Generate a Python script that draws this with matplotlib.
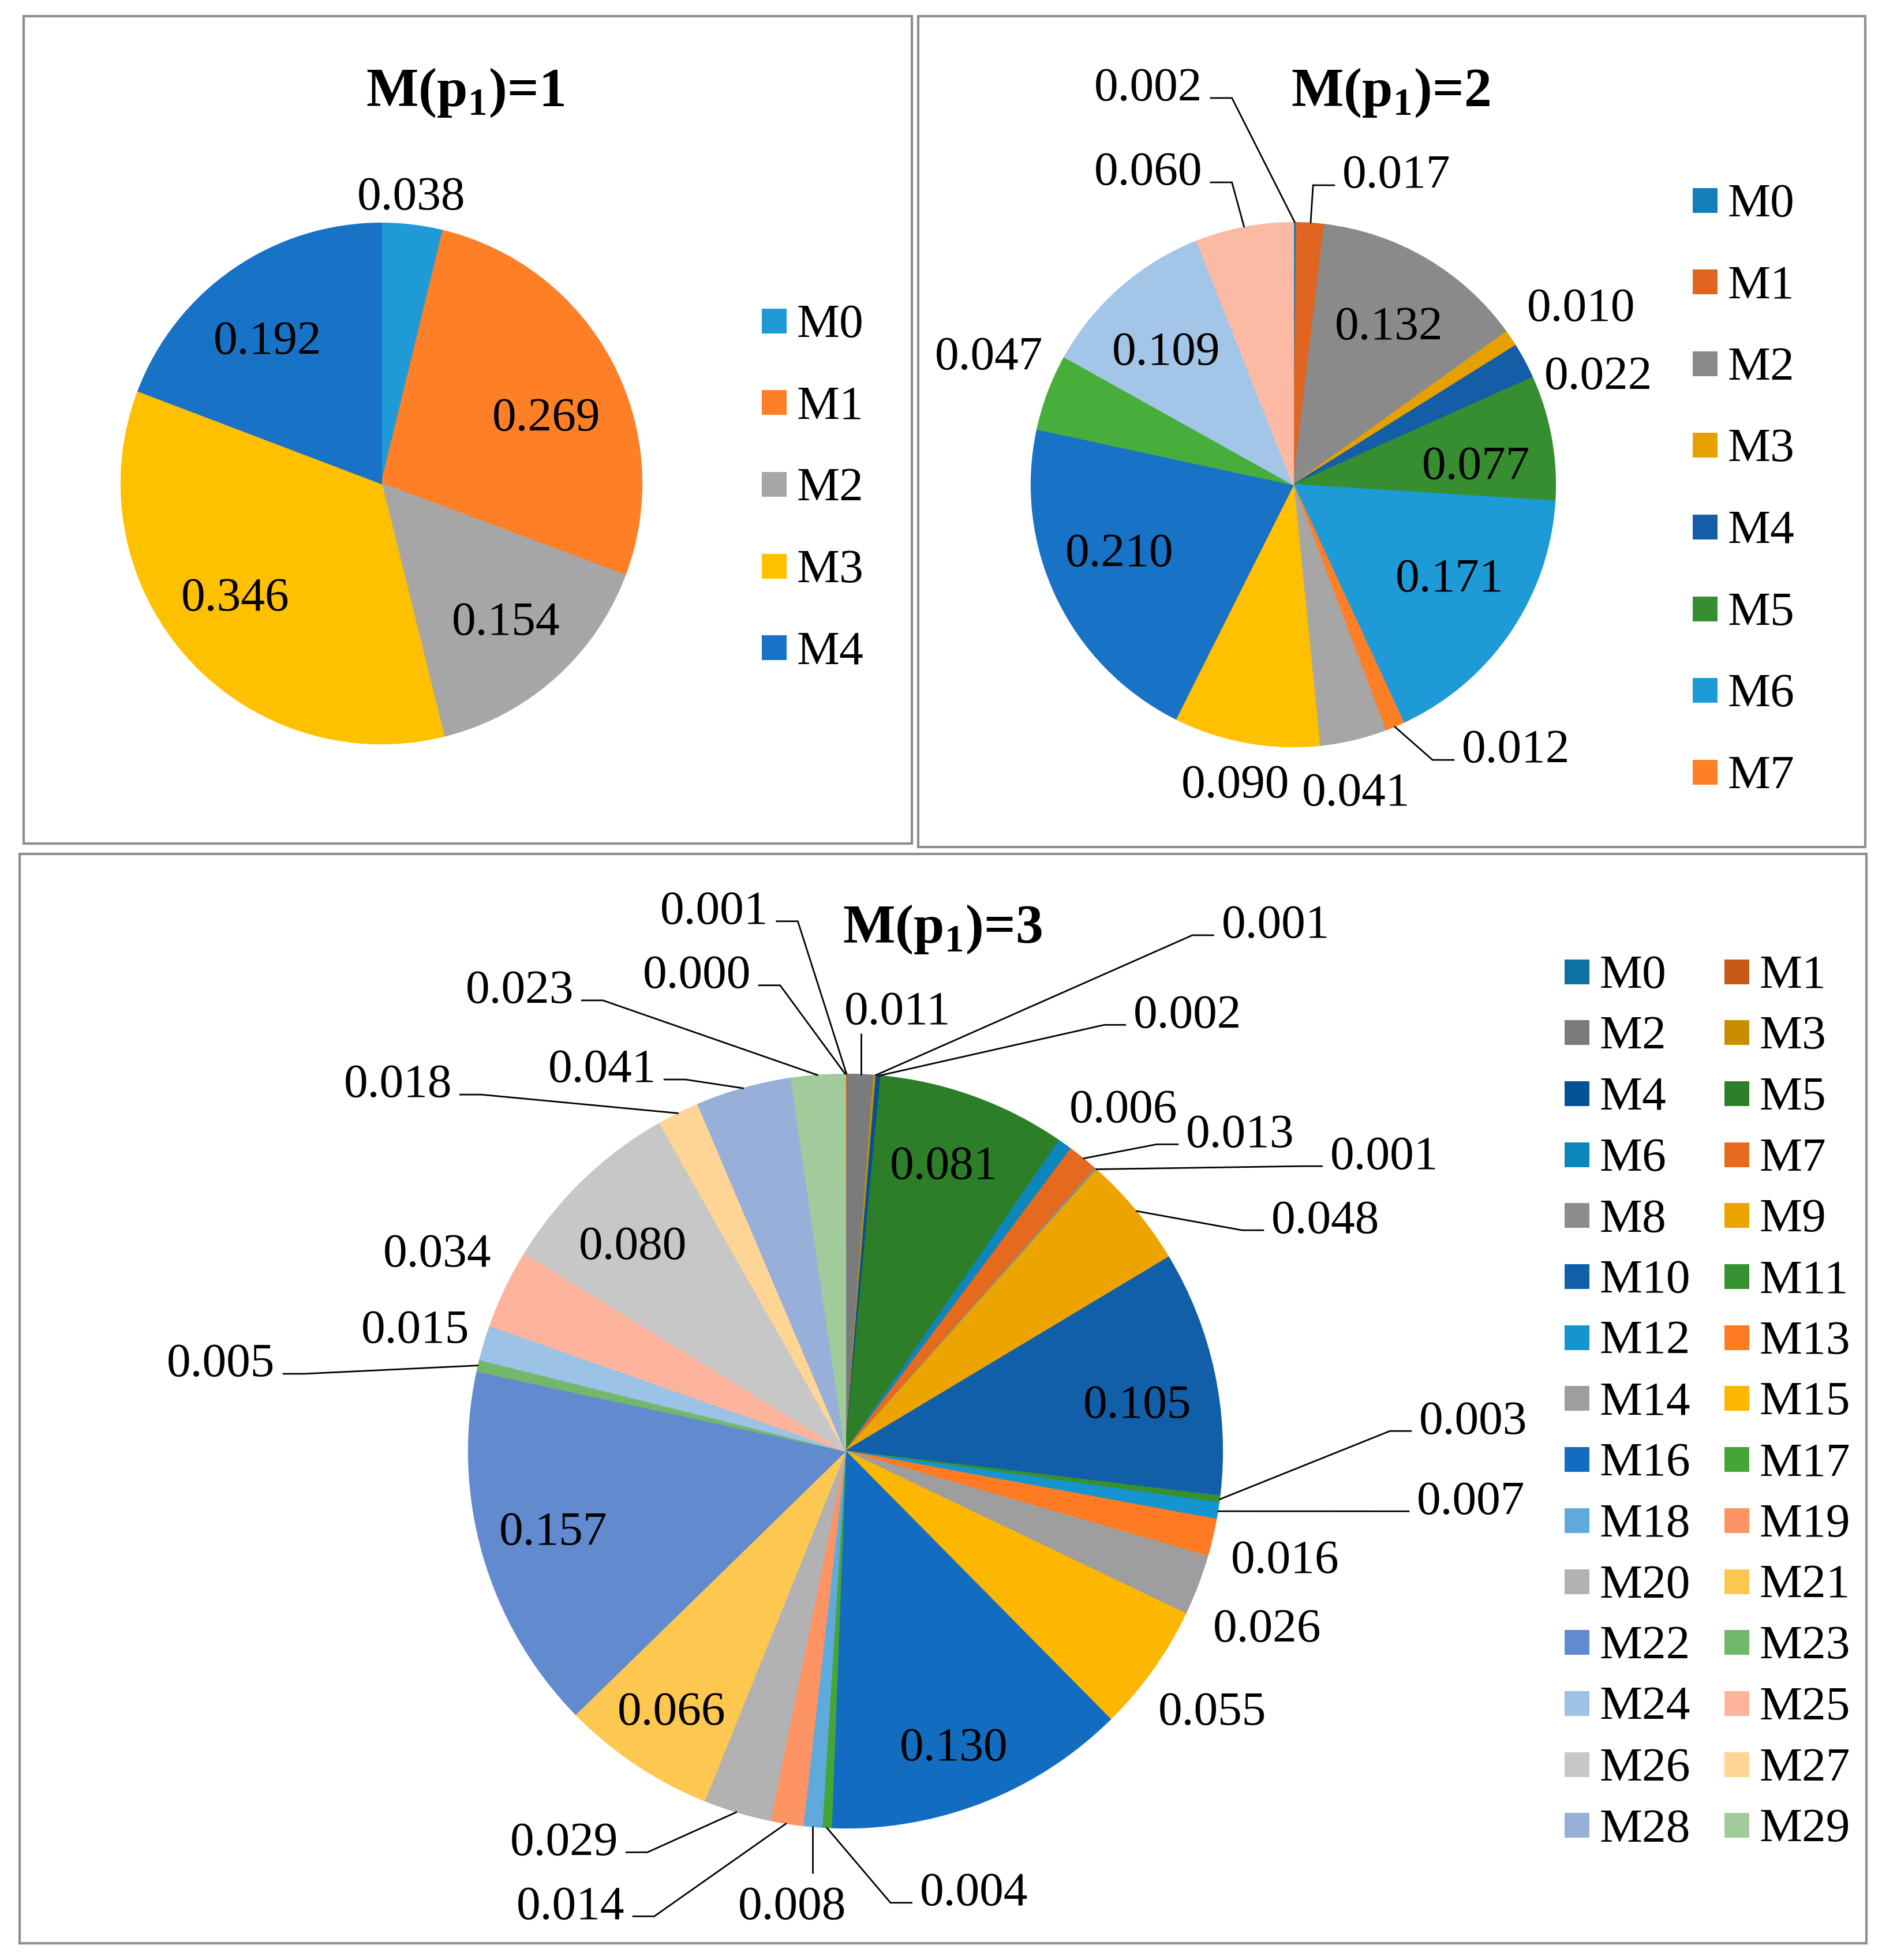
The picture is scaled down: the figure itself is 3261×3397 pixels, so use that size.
import matplotlib
matplotlib.use("Agg")
import matplotlib.pyplot as plt
from matplotlib.patches import Rectangle
import numpy as np

# canvas in pixels, y measured downward like the picture
W, H, DPI = 3262, 3397, 200

# ------------------------------------------------------------------
# data
# ------------------------------------------------------------------
labels1 = ["M0", "M1", "M2", "M3", "M4"]
values1 = [0.038, 0.269, 0.154, 0.346, 0.192]
colors1 = ["#1E9BD7", "#FF7F27", "#A6A6A6", "#FFC000", "#1872C6"]

labels2 = [f"M{i}" for i in range(14)]
values2 = [0.002, 0.017, 0.132, 0.010, 0.022, 0.077, 0.171,
           0.012, 0.041, 0.090, 0.210, 0.047, 0.109, 0.060]
colors2 = ["#137EB9", "#DF6521", "#8A8A8A", "#E6A100", "#135EA7", "#368E31", "#1E9BD7",
           "#FF7F27", "#A6A6A6", "#FFC000", "#1872C6", "#47AE3B", "#A3C6E8", "#FCBAA5"]
legend2_shown = 8   # the legend box is cut off after M7

labels3 = [f"M{i}" for i in range(30)]
values3 = [0.000, 0.001, 0.011, 0.001, 0.002, 0.081, 0.006, 0.013, 0.001, 0.048,
           0.105, 0.003, 0.007, 0.016, 0.026, 0.055, 0.130, 0.004, 0.008, 0.014,
           0.029, 0.066, 0.157, 0.005, 0.015, 0.034, 0.080, 0.018, 0.041, 0.023]
colors3 = ["#0B72A1", "#C55A16", "#7B7B7B", "#C98E00", "#055195", "#2C7F28",
           "#0D86BE", "#E56A1D", "#8C8C8C", "#ECA400", "#125FA9", "#389130",
           "#1595D0", "#FF7B23", "#9E9E9E", "#FEB700", "#126DC0", "#45A535",
           "#5FAADD", "#FE9364", "#B2B2B2", "#FEC850", "#628ACF", "#72B86B",
           "#9CC2E5", "#FEB49C", "#C7C7C7", "#FED594", "#98AFDA", "#A2CB9C"]

# ------------------------------------------------------------------
# layout: label offsets from pie centre (in radii, x right / y up)
# and leader style (None, "h" elbow, "v" straight)
# ------------------------------------------------------------------
label_pos1 = {
    0: (0.115, 1.115, None), 1: (0.634, 0.266, None), 2: (0.479, -0.519, None),
    3: (-0.561, -0.424, None), 4: (-0.437, 0.561, None),
}
label_pos2 = {
    0: (-0.553, 1.529, "h"), 1: (0.394, 1.196, "h"), 2: (0.366, 0.617, None),
    3: (1.099, 0.687, None), 4: (1.165, 0.427, None), 5: (0.698, 0.084, None),
    6: (0.597, -0.344, None), 7: (0.850, -0.998, "h"), 8: (0.240, -1.163, None),
    9: (-0.222, -1.132, None), 10: (-0.663, -0.249, None), 11: (-1.161, 0.502, None),
    12: (-0.485, 0.520, None), 13: (-0.553, 1.207, "h"),
}
label_pos3 = {
    0: (-0.395, 1.273, "h"), 1: (-0.348, 1.443, "h"), 2: (0.138, 1.176, "v"),
    3: (1.142, 1.406, "h"), 4: (0.908, 1.168, "h"), 5: (0.262, 0.766, None),
    6: (0.737, 0.917, None), 7: (1.047, 0.851, "h"), 8: (1.430, 0.793, "h"),
    9: (1.274, 0.623, "h"), 10: (0.775, 0.133, None), 11: (1.666, 0.090, "h"),
    12: (1.660, -0.123, "h"), 13: (1.167, -0.280, None), 14: (1.119, -0.462, None),
    15: (0.974, -0.683, None), 16: (0.288, -0.778, None), 17: (0.341, -1.162, "h"),
    18: (-0.142, -1.198, "v"), 19: (-0.729, -1.198, "h"), 20: (-0.747, -1.028, "h"),
    21: (-0.462, -0.683, None), 22: (-0.775, -0.205, None), 23: (-1.657, 0.242, "h"),
    24: (-1.142, 0.331, None), 25: (-1.083, 0.534, None), 26: (-0.564, 0.553, None),
    27: (-1.188, 0.983, "h"), 28: (-0.646, 1.023, "h"), 29: (-0.865, 1.233, "h"),
}

SERIF = "Liberation Serif"
LABEL_FS = 30
LEGEND_FS = 30
TITLE_FS = 34.5
PX = DPI / 72.0
DIGIT_HALF = 0.338 * LABEL_FS * PX
HALF_W = 1.1 * LABEL_FS * PX
CAP_HALF = 0.331 * LEGEND_FS * PX

plt.rcParams["mathtext.fontset"] = "custom"
plt.rcParams["mathtext.rm"] = SERIF
plt.rcParams["mathtext.bf"] = SERIF + ":bold"


def up(y):
    return H - y


def draw_pie(ax, values, colors, cx, cy, r, label_pos):
    wedges, _ = ax.pie(values, colors=colors, startangle=90, counterclock=False,
                       center=(cx, up(cy)), radius=r)
    for w, v in zip(wedges, values):
        w.set_edgecolor(w.get_facecolor())
        w.set_linewidth(0.8 if v > 0 else 0)

    total = sum(values)
    cum = 0.0
    for i, v in enumerate(values):
        a = np.radians(360.0 * (cum + v / 2) / total)
        cum += v
        dx, dy, style = label_pos[i]
        lx, ly = cx + dx * r, cy - dy * r
        if style:
            ex, ey = cx + r * np.sin(a), cy - r * np.cos(a)
            if style == "h":
                side = 1 if ex > lx else -1
                x0 = lx + side * (HALF_W + 15)
                by = ly + 24
                xs, ys = [x0, x0 + side * 38, ex], [by, by, ey]
            else:
                end = ly + DIGIT_HALF + 16 if ly < ey else ly - DIGIT_HALF - 22
                xs, ys = [ex, ex], [ey, end]
            ax.plot(xs, [up(y) for y in ys], color="black", lw=1.0,
                    solid_capstyle="butt", solid_joinstyle="miter")
        ax.text(lx, up(ly + DIGIT_HALF), f"{v:.3f}", ha="center", va="baseline",
                fontsize=LABEL_FS, family=SERIF)


def draw_legend(ax, labels, colors, x0, y0, step, ncol=1, col_step=0):
    for k, (lab, col) in enumerate(zip(labels, colors)):
        row, c = divmod(k, ncol)
        x = x0 + c * col_step
        y = y0 + row * step
        ax.add_patch(Rectangle((x, up(y + 21.5)), 43, 43, facecolor=col, edgecolor="none"))
        ax.text(x + 61, up(y + CAP_HALF), lab, ha="left", va="baseline",
                fontsize=LEGEND_FS, family=SERIF)


def panel(ax, x0, y0, x1, y1):
    ax.add_patch(Rectangle((x0, up(y1)), x1 - x0, y1 - y0, fill=False,
                           edgecolor="#8E8E8E", linewidth=1.5))


def title(ax, x, y, n):
    ax.text(x, up(y), r"M(p$_{\mathbf{1}}$)=" + str(n), ha="center", va="baseline",
            fontsize=TITLE_FS, fontweight="bold", family=SERIF)


fig = plt.figure(figsize=(W / DPI, H / DPI), dpi=DPI)
ax = fig.add_axes([0, 0, 1, 1])

panel(ax, 41, 28, 1580, 1462)
panel(ax, 1591, 28, 3232, 1468)
panel(ax, 34, 1480, 3234, 3368)

draw_pie(ax, values1, colors1, 661, 838, 451, label_pos1)
draw_pie(ax, values2, colors2, 2241, 840, 454, label_pos2)
draw_pie(ax, values3, colors3, 1465, 2515, 653, label_pos3)

title(ax, 806, 184, 1)
title(ax, 2410, 184, 2)
title(ax, 1633, 1634, 3)

draw_legend(ax, labels1, colors1, 1320, 556, 141.7)
draw_legend(ax, labels2[:legend2_shown], colors2[:legend2_shown], 2933, 347, 141.6)
draw_legend(ax, labels3, colors3, 2711, 1684, 105.7, ncol=2, col_step=277)

ax.set_xlim(0, W)
ax.set_ylim(0, H)
ax.set_aspect("auto")
ax.axis("off")

fig.savefig("out.png", dpi=DPI)
plt.close(fig)
